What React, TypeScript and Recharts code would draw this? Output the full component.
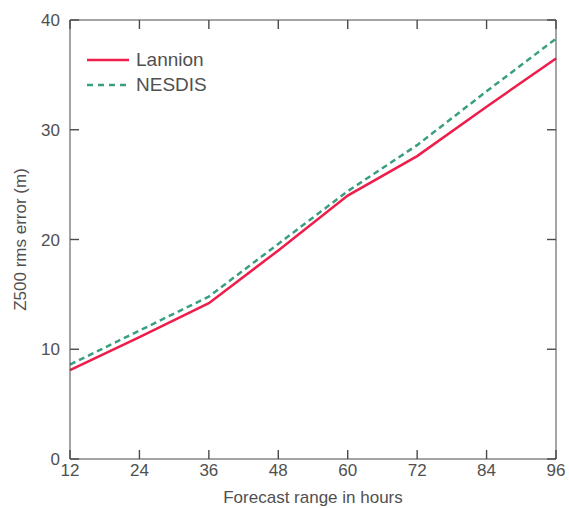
import React from "react";
import { LineChart, Line, XAxis, YAxis } from "recharts";

const hours = [12, 24, 36, 48, 60, 72, 84, 96];
const lannion = [8.1, 11.1, 14.2, 19.0, 24.0, 27.6, 32.1, 36.5];
const nesdis = [8.6, 11.7, 14.8, 19.6, 24.4, 28.6, 33.5, 38.3];
const xTicks = [12, 24, 36, 48, 60, 72, 84, 96];
const yTicks = [0, 10, 20, 30, 40];
const seriesNames = ["Lannion", "NESDIS"];

const data = hours.map((h, i) => ({ hour: h, Lannion: lannion[i], NESDIS: nesdis[i] }));

const RED = "#ee1d4a";
const GREEN = "#3a9f80";
const TEXT = "#505050";
const AXIS = "#4a4a4a";
const FONT = "Liberation Sans, Arial, sans-serif";

const Empty = () => <g />;

const LegendBox = () => (
  <div
    style={{
      position: "absolute",
      left: 87,
      top: 47,
      fontFamily: FONT,
      fontSize: 19,
      color: TEXT,
      lineHeight: "25px",
    }}
  >
    <div style={{ display: "flex", alignItems: "center" }}>
      <svg width={42} height={10} style={{ marginRight: 7 }}>
        <line x1={0} y1={5} x2={42} y2={5} stroke={RED} strokeWidth={2.5} />
      </svg>
      <span>{seriesNames[0]}</span>
    </div>
    <div style={{ display: "flex", alignItems: "center" }}>
      <svg width={42} height={10} style={{ marginRight: 7 }}>
        <line x1={0} y1={5} x2={42} y2={5} stroke={GREEN} strokeWidth={2.5} strokeDasharray="6 5" />
      </svg>
      <span>{seriesNames[1]}</span>
    </div>
  </div>
);

export default function App() {
  return (
    <div style={{ position: "absolute", left: 0, top: 0, width: 569, height: 508, background: "#fff" }}>
      <LineChart width={569} height={508} data={data} margin={{ top: 20, right: 13, bottom: 0, left: 0 }}>
        <XAxis
          xAxisId="b"
          dataKey="hour"
          type="number"
          domain={[12, 96]}
          ticks={xTicks}
          height={49}
          tickSize={0}
          tickLine={false}
          tickMargin={5}
          axisLine={{ stroke: AXIS }}
          tick={{ fill: TEXT, fontSize: 17, fontFamily: FONT }}
          label={{ value: "Forecast range in hours", position: "insideBottom", offset: 5, fill: TEXT, fontSize: 17, fontFamily: FONT }}
        />
        <XAxis
          xAxisId="bm"
          orientation="bottom"
          mirror
          dataKey="hour"
          type="number"
          domain={[12, 96]}
          ticks={xTicks}
          height={20}
          tickSize={9}
          axisLine={false}
          tick={Empty}
          tickLine={{ stroke: AXIS, strokeWidth: 1.4 }}
        />
        <XAxis
          xAxisId="tm"
          orientation="top"
          mirror
          dataKey="hour"
          type="number"
          domain={[12, 96]}
          ticks={xTicks}
          height={20}
          tickSize={9}
          axisLine={{ stroke: AXIS }}
          tick={Empty}
          tickLine={{ stroke: AXIS, strokeWidth: 1.4 }}
        />
        <YAxis
          yAxisId="l"
          dataKey="Lannion"
          domain={[0, 40]}
          ticks={yTicks}
          width={70}
          tickSize={0}
          tickLine={false}
          tickMargin={10}
          axisLine={{ stroke: AXIS }}
          tick={{ fill: TEXT, fontSize: 17, fontFamily: FONT }}
          label={{ value: "Z500 rms error (m)", angle: -90, position: "insideLeft", offset: 20, fill: TEXT, fontSize: 17, fontFamily: FONT, style: { textAnchor: "middle" } }}
        />
        <YAxis
          yAxisId="lm"
          orientation="left"
          mirror
          dataKey="Lannion"
          domain={[0, 40]}
          ticks={yTicks}
          width={20}
          tickSize={9}
          axisLine={false}
          tick={Empty}
          tickLine={{ stroke: AXIS, strokeWidth: 1.4 }}
        />
        <YAxis
          yAxisId="rm"
          orientation="right"
          mirror
          dataKey="Lannion"
          domain={[0, 40]}
          ticks={yTicks}
          width={20}
          tickSize={9}
          axisLine={{ stroke: AXIS }}
          tick={Empty}
          tickLine={{ stroke: AXIS, strokeWidth: 1.4 }}
        />
        <Line
          xAxisId="b"
          yAxisId="l"
          dataKey="Lannion"
          stroke={RED}
          strokeWidth={2.5}
          dot={false}
          isAnimationActive={false}
        />
        <Line
          xAxisId="b"
          yAxisId="l"
          dataKey="NESDIS"
          stroke={GREEN}
          strokeWidth={2.5}
          strokeDasharray="6 4"
          dot={false}
          isAnimationActive={false}
        />
      </LineChart>
      <LegendBox />
    </div>
  );
}
